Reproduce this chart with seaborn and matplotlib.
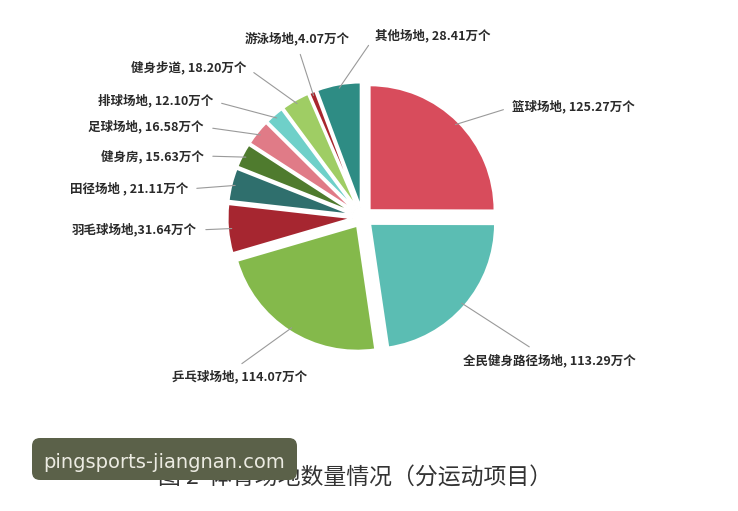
import numpy as np
import matplotlib.pyplot as plt
import matplotlib.transforms as mtransforms
from matplotlib.patches import FancyBboxPatch
import seaborn as sns

# 数据（万个）
项目 = ['篮球场地', '全民健身路径场地', '乒乓球场地', '羽毛球场地', '田径场地', '健身房',
      '足球场地', '排球场地', '健身步道', '游泳场地', '其他场地']
数量 = [125.27, 113.29, 114.07, 31.64, 21.11, 15.63, 16.58, 12.10, 18.20, 4.07, 28.41]
标签 = ['篮球场地, 125.27万个', '全民健身路径场地, 113.29万个', '乒乓球场地, 114.07万个',
      '羽毛球场地,31.64万个', '田径场地 , 21.11万个', '健身房, 15.63万个',
      '足球场地, 16.58万个', '排球场地, 12.10万个', '健身步道, 18.20万个',
      '游泳场地,4.07万个', '其他场地, 28.41万个']
颜色 = ['#d84c5c', '#5bbdb3', '#84b94b', '#a62630', '#2f6f6d', '#4f7b2e',
      '#e07b87', '#6fd0c9', '#9fcd64', '#a8262e', '#2e8c84']

# 标签位置（图像像素，左上为原点）、对齐方式、引线起点
标签位置 = [(512, 107, 'left', (0, 0.5)), (463, 360, 'left', (0.44, 1)),
        (172, 377, 'left', (0.45, 1)), (197, 230, 'right', (1, 0.5)),
        (188, 189, 'right', (1, 0.5)), (204, 156, 'right', (1, 0.5)),
        (204, 127, 'right', (1, 0.5)), (213, 101, 'right', (1, 0.5)),
        (246, 67, 'right', (1, 0.5)), (245, 39, 'left', (0.5, 0)),
        (375, 36, 'left', (0, 0.5))]

sns.set_theme(style='white')
plt.rcParams['font.family'] = ['Noto Sans CJK SC', 'DejaVu Sans']

W, H = 738, 511
fig = plt.figure(figsize=(W / 100, H / 100), dpi=100)
fig.patch.set_facecolor('white')

# 饼图中心约 (362, 217)，半径约 125 像素
cx, cy, half = 362.5, 217.3, 150
ax = fig.add_axes([(cx - half) / W, (H - cy - half) / H, 2 * half / W, 2 * half / H])

explode = [0.08] * len(数量)
wedges, _ = ax.pie(数量, colors=颜色, startangle=90, counterclock=False,
                   explode=explode, radius=1.0,
                   wedgeprops=dict(edgecolor='white', linewidth=1.5))
ax.set_xlim(-1.2, 1.2)
ax.set_ylim(-1.2, 1.2)
ax.axis('off')

for w, lab, e, (px, py, ha, rel) in zip(wedges, 标签, explode, 标签位置):
    mid = np.deg2rad((w.theta1 + w.theta2) / 2)
    r = 1.0 + e - 0.03
    ax.annotate(lab, xy=(r * np.cos(mid), r * np.sin(mid)), xycoords='data',
                xytext=(px, H - py), textcoords='figure pixels',
                ha=ha, va='center', fontsize=9, fontweight='bold', color='#2a2a2a',
                arrowprops=dict(arrowstyle='-', color='#9a9a9a', lw=0.8,
                                relpos=rel, shrinkA=4, shrinkB=0))

# 图题
fig.text(355 / W, 1 - 477 / H, '图 2  体育场地数量情况（分运动项目）',
         ha='center', va='center', fontsize=16.5, color='#333333')

# 水印
box = FancyBboxPatch((32, H - 480), 265, 42, boxstyle='round,pad=0,rounding_size=8',
                     transform=mtransforms.IdentityTransform(),
                     facecolor='#5b6149', edgecolor='none', zorder=5)
fig.patches.append(box)
fig.text(43 / W, 1 - 462 / H, 'pingsports-jiangnan.com', ha='left', va='center',
         fontsize=14, color='#ecebe2', family=['DejaVu Sans'], zorder=6)

fig.savefig('out.png', dpi=100)
